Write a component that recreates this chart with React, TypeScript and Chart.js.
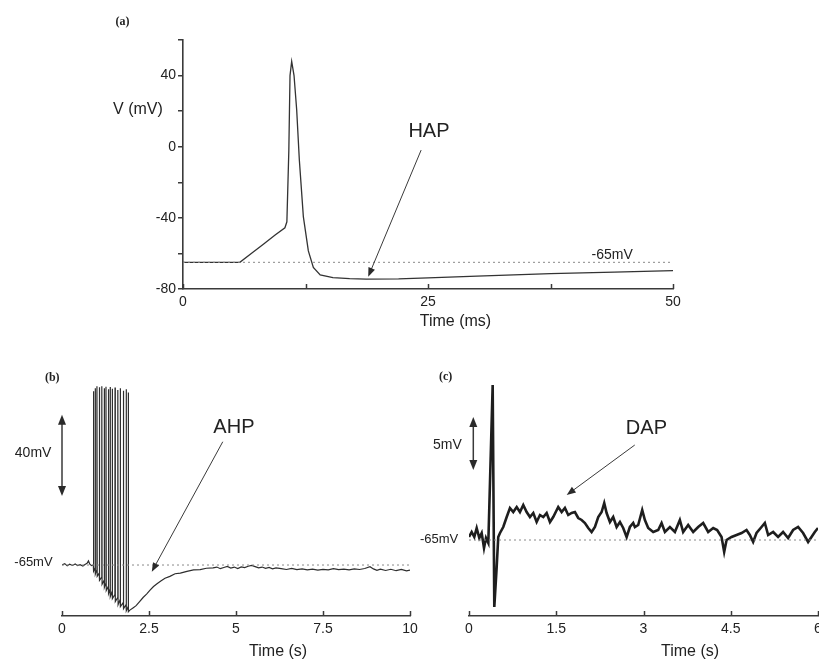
import React, { useEffect, useRef } from "react";
import { Chart, registerables } from "chart.js";

Chart.register(...registerables);

const W = 819;
const H = 663;
const SANS = "'Liberation Sans', Arial, Helvetica, sans-serif";
const SERIF = "'Liberation Serif', 'Times New Roman', serif";
const INK = "#222222";
const AXIS = "#3a3a3a";
const TRACE = "#333333";

// ---------- Panel (a): HAP (time in ms, voltage in mV) ----------
const hapTime = [0, 5.8, 7, 8.2, 9.4, 10.4, 10.6, 10.8, 10.92, 11.09, 11.33, 11.6, 11.87, 12.28, 12.79, 13.3, 14, 15.3, 17, 18.7, 22, 25, 30, 37.5, 44, 50];
const hapVolt = [-65, -65, -59.9, -54.8, -49.7, -45.6, -42.2, -2, 40, 48, 40, 20.8, -7.3, -39.3, -58.6, -67.9, -72.1, -73.6, -74.2, -74.4, -74.3, -73.7, -72.8, -71.4, -70.5, -69.7];
const hapXTicks = [0, 25, 50];
const hapYTicks = [-80, -40, 0, 40];

// ---------- Panel (b): AHP (time in s, voltage in mV) ----------
const ahpPreTime = [0, 0.08, 0.15, 0.22, 0.3, 0.38, 0.45, 0.52, 0.6, 0.66, 0.72, 0.76, 0.8, 0.85];
const ahpPreVolt = [-65.0, -64.3, -65.4, -64.6, -65.2, -64.5, -65.3, -64.8, -65.5, -64.7, -64.2, -63.0, -64.6, -65.3];
const spikeTime = [0.90, 0.95, 1.00, 1.07, 1.14, 1.21, 1.26, 1.33, 1.38, 1.44, 1.52, 1.60, 1.67, 1.76, 1.84, 1.90];
const spikeOnset = [-65, -66.5, -67.5, -69, -71, -72.5, -74, -75.5, -77, -78, -79.5, -81, -82, -83.5, -84.5, -85.5];
const spikePeak = [20.5, 22, 23, 22.5, 23, 22, 22.8, 21.5, 22.6, 21.8, 22.4, 21.2, 22, 20.8, 21.5, 20];
const spikeTrough = [-68, -69.5, -70.5, -72.5, -74.5, -76, -77.5, -79, -80.5, -81.5, -83, -84.5, -85.5, -86.5, -87.5, -88];
const ahpPostTime = [1.95, 2.05, 2.13, 2.23, 2.33, 2.43, 2.53, 2.63, 2.73, 2.85, 2.96, 3.1, 3.25, 3.4, 3.59, 3.78, 3.97, 4.15, 4.34,
  4.45, 4.55, 4.65, 4.75, 4.85, 4.95, 5.05, 5.15, 5.25, 5.35, 5.45, 5.55, 5.65, 5.75, 5.85, 5.95, 6.05, 6.15, 6.3, 6.45, 6.6, 6.75,
  6.9, 7.05, 7.2, 7.35, 7.5, 7.65, 7.8, 7.95, 8.1, 8.25, 8.4, 8.55, 8.7, 8.85, 8.95, 9.05, 9.15, 9.3, 9.45, 9.6, 9.75, 9.9, 10];
const ahpPostVolt = [-87.2, -86.0, -85.0, -83.0, -81.0, -79.3, -77.4, -75.6, -74.2, -72.8, -71.5, -70.6, -69.3, -69.0, -68.1, -67.4, -67.3, -66.6, -66.4,
  -66.0, -66.8, -66.2, -65.7, -66.5, -66.0, -66.7, -65.9, -66.3, -65.6, -65.2, -65.8, -66.4, -66.0, -66.6, -66.2, -66.9, -66.4, -66.8, -67.2, -66.7, -67.3,
  -66.9, -67.4, -67.0, -67.5, -67.1, -67.4, -66.8, -67.3, -67.0, -67.4, -66.9, -67.2, -66.7, -65.8, -66.9, -67.6, -67.0, -67.7, -67.1, -67.8, -67.2, -67.9, -67.5];
const ahpXTicks = [0, 2.5, 5, 7.5, 10];

// ---------- Panel (c): DAP (time in s, voltage in mV) ----------
const dapTime = [0, 0.046, 0.091, 0.132, 0.177, 0.218, 0.258, 0.292, 0.332, 0.407, 0.435, 0.476, 0.503, 0.533, 0.589, 0.648, 0.704, 0.761, 0.820, 0.876,
  0.933, 0.991, 1.048, 1.105, 1.163, 1.220, 1.277, 1.335, 1.392, 1.448, 1.534, 1.593, 1.649, 1.706, 1.765, 1.821, 1.878, 1.936, 1.993, 2.050,
  2.108, 2.165, 2.222, 2.280, 2.325, 2.366, 2.423, 2.479, 2.538, 2.595, 2.651, 2.710, 2.766, 2.823, 2.852, 2.909, 2.978, 3.024, 3.081, 3.167,
  3.253, 3.311, 3.368, 3.454, 3.540, 3.625, 3.682, 3.768, 3.854, 3.940, 4.026, 4.112, 4.198, 4.266, 4.342, 4.387, 4.428, 4.514, 4.600, 4.686,
  4.771, 4.828, 4.885, 4.943, 5.029, 5.086, 5.143, 5.229, 5.314, 5.400, 5.486, 5.572, 5.658, 5.744, 5.830, 5.888, 5.945, 6.0];
const dapVolt = [-64.7, -64.2, -64.7, -63.8, -64.8, -64.3, -65.8, -64.8, -65.3, -49.5, -71.7, -67.7, -64.7, -64.3, -63.7, -62.7, -61.8, -62.2, -61.7, -62.2,
  -61.5, -62.2, -62.7, -62.3, -63.2, -62.5, -62.7, -62.3, -63.2, -62.7, -61.7, -62.2, -61.8, -62.5, -62.3, -62.2, -62.8, -63.0, -63.3, -63.8,
  -64.2, -63.7, -62.7, -62.2, -61.3, -62.3, -63.2, -62.7, -63.7, -63.2, -63.8, -64.7, -63.7, -63.3, -63.7, -63.5, -62.0, -63.0, -63.8, -64.2,
  -64.0, -63.3, -64.2, -63.7, -64.2, -63.0, -64.2, -63.5, -64.2, -63.7, -63.3, -64.2, -63.8, -64.0, -64.7, -66.2, -65.0, -64.7, -64.5, -64.3,
  -64.0, -64.5, -65.2, -64.3, -63.7, -63.3, -64.5, -64.2, -64.7, -64.2, -64.8, -64.0, -63.7, -64.3, -65.2, -64.7, -64.2, -63.8];
const dapXTicks = [0, 1.5, 3, 4.5, 6];

const restLevel = -65;

// ---------- helpers ----------
type Txt = { text: string; x: number; y: number; size: number; align?: CanvasTextAlign; bold?: boolean; serif?: boolean };
type Arw = { x1: number; y1: number; x2: number; y2: number; both?: boolean; len: number; wid: number; lw: number };

function head(ctx: CanvasRenderingContext2D, fx: number, fy: number, tx: number, ty: number, len: number, wid: number) {
  const a = Math.atan2(ty - fy, tx - fx);
  const c = Math.cos(a), s = Math.sin(a);
  const bx = tx - c * len, by = ty - s * len;
  ctx.beginPath();
  ctx.moveTo(tx, ty);
  ctx.lineTo(bx - s * wid / 2, by + c * wid / 2);
  ctx.lineTo(bx + s * wid / 2, by - c * wid / 2);
  ctx.closePath();
  ctx.fill();
}

function overlay(texts: Txt[], arrows: Arw[]) {
  return {
    id: "overlay",
    afterDraw(chart: any) {
      const ctx: CanvasRenderingContext2D = chart.ctx;
      const xs = chart.scales.x;
      const ys = chart.scales.y;
      const ca = chart.chartArea;
      ctx.save();
      // inward x ticks
      ctx.strokeStyle = AXIS;
      ctx.lineWidth = 1.5;
      xs.ticks.forEach((t: any) => {
        const px = Math.round(xs.getPixelForValue(t.value)) + 0.5;
        ctx.beginPath();
        ctx.moveTo(px, ca.bottom);
        ctx.lineTo(px, ca.bottom - 5);
        ctx.stroke();
      });
      // arrows
      ctx.fillStyle = "#2a2a2a";
      ctx.strokeStyle = "#3a3a3a";
      arrows.forEach((a) => {
        const x1 = xs.getPixelForValue(a.x1), y1 = ys.getPixelForValue(a.y1);
        const x2 = xs.getPixelForValue(a.x2), y2 = ys.getPixelForValue(a.y2);
        const ang = Math.atan2(y2 - y1, x2 - x1);
        const ex = x2 - Math.cos(ang) * a.len * 0.8, ey = y2 - Math.sin(ang) * a.len * 0.8;
        const sx = a.both ? x1 + Math.cos(ang) * a.len * 0.8 : x1;
        const sy = a.both ? y1 + Math.sin(ang) * a.len * 0.8 : y1;
        ctx.lineWidth = a.lw;
        ctx.beginPath();
        ctx.moveTo(sx, sy);
        ctx.lineTo(ex, ey);
        ctx.stroke();
        head(ctx, x1, y1, x2, y2, a.len, a.wid);
        if (a.both) head(ctx, x2, y2, x1, y1, a.len, a.wid);
      });
      // texts
      ctx.fillStyle = INK;
      ctx.textBaseline = "middle";
      texts.forEach((t) => {
        ctx.font = `${t.bold ? "bold " : ""}${t.size}px ${t.serif ? SERIF : SANS}`;
        ctx.textAlign = t.align || "center";
        ctx.fillText(t.text, xs.getPixelForValue(t.x), ys.getPixelForValue(t.y));
      });
      ctx.restore();
    },
  };
}

function pts(xs: number[], ys: number[]) {
  return xs.map((x, i) => ({ x, y: ys[i] }));
}

function ahpSeries() {
  const out = pts(ahpPreTime, ahpPreVolt);
  spikeTime.forEach((t, i) => {
    out.push({ x: t, y: spikeOnset[i] });
    out.push({ x: t + 0.004, y: spikePeak[i] });
    out.push({ x: t + 0.012, y: spikeTrough[i] });
  });
  return out.concat(pts(ahpPostTime, ahpPostVolt));
}

type PanelCfg = {
  area: { left: number; right: number; top: number; bottom: number };
  xMin: number; xMax: number; xStep: number; xLabels: number[];
  yMin: number; yMax: number; showY: boolean; yStep?: number; yLabels?: number[];
  data: { x: number; y: number }[];
  dashFrom: number; dashTo: number;
  lineWidth: number; lineColor: string;
  texts: Txt[]; arrows: Arw[];
};

function buildChart(canvas: HTMLCanvasElement, p: PanelCfg) {
  const yW = p.showY ? 40 : 0;
  const xH = 30;
  const fmt = (labels: number[]) => (v: any) => (labels.some((l) => Math.abs(l - v) < 1e-6) ? String(v) : "");
  return new Chart(canvas, {
    type: "scatter",
    data: {
      datasets: [
        {
          data: [{ x: p.dashFrom, y: restLevel }, { x: p.dashTo, y: restLevel }],
          showLine: true, borderColor: "#8a8a8a", borderWidth: 1, borderDash: [2, 3], pointRadius: 0,
        },
        {
          data: p.data, showLine: true, borderColor: p.lineColor, borderWidth: p.lineWidth, pointRadius: 0, tension: 0,
          borderJoinStyle: "miter",
        },
      ],
    },
    options: {
      animation: false,
      responsive: false,
      events: [],
      layout: {
        padding: {
          left: p.area.left - yW,
          right: W - p.area.right,
          top: p.area.top,
          bottom: H - p.area.bottom - xH,
        },
      },
      plugins: { legend: { display: false }, tooltip: { enabled: false }, title: { display: false } },
      scales: {
        x: {
          type: "linear", min: p.xMin, max: p.xMax,
          afterFit: (s: any) => { s.height = xH; s.paddingLeft = 0; s.paddingRight = 0; },
          ticks: { stepSize: p.xStep, padding: 5, color: INK, font: { family: SANS, size: 14 }, maxRotation: 0, autoSkip: false, callback: fmt(p.xLabels) },
          grid: { display: false, drawTicks: false },
          border: { display: true, color: AXIS, width: 1.6 },
        },
        y: {
          type: "linear", min: p.yMin, max: p.yMax, display: p.showY,
          afterFit: (s: any) => { if (p.showY) { s.width = yW; s.paddingTop = 0; s.paddingBottom = 0; } },
          ticks: { stepSize: p.yStep || 20, padding: 2, color: INK, font: { family: SANS, size: 14 }, autoSkip: false, callback: fmt(p.yLabels || []) },
          grid: { drawOnChartArea: false, drawTicks: true, tickLength: 5, color: AXIS, lineWidth: 1.5 },
          border: { display: true, color: AXIS, width: 1.6 },
        },
      },
    },
    plugins: [overlay(p.texts, p.arrows)],
  } as any);
}

const panelA: PanelCfg = {
  area: { left: 183, right: 673, top: 40, bottom: 289 },
  xMin: 0, xMax: 50, xStep: 12.5, xLabels: hapXTicks,
  yMin: -80, yMax: 60, showY: true, yStep: 20, yLabels: hapYTicks,
  data: pts(hapTime, hapVolt), dashFrom: 0, dashTo: 50, lineWidth: 1.3, lineColor: TRACE,
  texts: [
    { text: "(a)", x: -6.9, y: 70.1, size: 12, align: "left", bold: true, serif: true },
    { text: "V (mV)", x: -4.6, y: 20.6, size: 16 },
    { text: "HAP", x: 25.1, y: 8.3, size: 20 },
    { text: "-65mV", x: 43.8, y: -60.9, size: 14 },
    { text: "Time (ms)", x: 27.8, y: -98.6, size: 16 },
  ],
  arrows: [{ x1: 24.3, y1: -1.9, x2: 18.9, y2: -73.1, len: 9, wid: 7, lw: 1 }],
};

const panelB: PanelCfg = {
  area: { left: 62, right: 410, top: 380, bottom: 616 },
  xMin: 0, xMax: 10, xStep: 2.5, xLabels: ahpXTicks,
  yMin: -90.1, yMax: 26.1, showY: false,
  data: ahpSeries(), dashFrom: 0, dashTo: 10, lineWidth: 1.2, lineColor: "#2e2e2e",
  texts: [
    { text: "(b)", x: -0.49, y: 27.1, size: 12, align: "left", bold: true, serif: true },
    { text: "40mV", x: -0.83, y: -9.8, size: 14 },
    { text: "-65mV", x: -0.82, y: -63.9, size: 13 },
    { text: "AHP", x: 4.94, y: 2.5, size: 20 },
    { text: "Time (s)", x: 6.21, y: -107.7, size: 16 },
  ],
  arrows: [
    { x1: 0, y1: 9, x2: 0, y2: -31, both: true, len: 10, wid: 8, lw: 1.5 },
    { x1: 4.62, y1: -4.3, x2: 2.58, y2: -68.3, len: 9, wid: 7, lw: 1 },
  ],
};

const panelC: PanelCfg = {
  area: { left: 469, right: 818, top: 380, bottom: 616 },
  xMin: 0, xMax: 6, xStep: 1.5, xLabels: dapXTicks,
  yMin: -72.6, yMax: -49, showY: false,
  data: pts(dapTime, dapVolt), dashFrom: 0, dashTo: 6, lineWidth: 2.6, lineColor: "#1e1e1e",
  texts: [
    { text: "(c)", x: -0.515, y: -48.7, size: 12, align: "left", bold: true, serif: true },
    { text: "5mV", x: -0.37, y: -55.5, size: 14 },
    { text: "-65mV", x: -0.515, y: -64.9, size: 13 },
    { text: "DAP", x: 3.05, y: -53.8, size: 20 },
    { text: "Time (s)", x: 3.8, y: -76.2, size: 16 },
  ],
  arrows: [
    { x1: 0.074, y1: -52.7, x2: 0.074, y2: -58, both: true, len: 10, wid: 8, lw: 1.5 },
    { x1: 2.85, y1: -55.5, x2: 1.68, y2: -60.5, len: 9, wid: 7, lw: 1 },
  ],
};

export default function App() {
  const ra = useRef<HTMLCanvasElement>(null);
  const rb = useRef<HTMLCanvasElement>(null);
  const rc = useRef<HTMLCanvasElement>(null);

  useEffect(() => {
    const charts = [
      buildChart(ra.current!, panelA),
      buildChart(rb.current!, panelB),
      buildChart(rc.current!, panelC),
    ];
    return () => charts.forEach((c) => c.destroy());
  }, []);

  const cs: React.CSSProperties = { position: "absolute", left: 0, top: 0 };
  return (
    <div style={{ position: "absolute", left: 0, top: 0, width: W, height: H, background: "#ffffff", overflow: "hidden" }}>
      <canvas ref={ra} width={W} height={H} style={cs} />
      <canvas ref={rb} width={W} height={H} style={cs} />
      <canvas ref={rc} width={W} height={H} style={cs} />
    </div>
  );
}
